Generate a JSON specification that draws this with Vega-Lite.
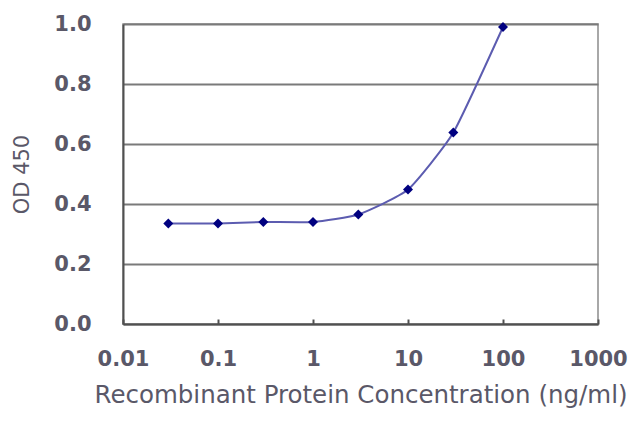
{
  "$schema": "https://vega.github.io/schema/vega-lite/v6.json",
  "autosize": {"type": "none"},
  "padding": {"left": 123, "top": 24, "right": 42, "bottom": 103},
  "width": 475,
  "height": 300,
  "background": "white",
  "config": {
    "font": "DejaVu Sans",
    "view": {"stroke": "#8c8c8c", "strokeWidth": 1.5},
    "axis": {
      "labelFont": "DejaVu Sans",
      "titleFont": "DejaVu Sans",
      "labelColor": "#5a5868",
      "titleColor": "#5a5868",
      "labelFontWeight": "bold",
      "titleFontWeight": "normal",
      "domainColor": "#505050",
      "domainWidth": 2
    }
  },
  "data": {
    "values": [
      {"conc": 0.03, "od": 0.335},
      {"conc": 0.1, "od": 0.335},
      {"conc": 0.3, "od": 0.34},
      {"conc": 1, "od": 0.34},
      {"conc": 3, "od": 0.365},
      {"conc": 10, "od": 0.448},
      {"conc": 30, "od": 0.638},
      {"conc": 100, "od": 0.99}
    ]
  },
  "encoding": {
    "x": {
      "field": "conc",
      "type": "quantitative",
      "scale": {"type": "log", "domain": [0.01, 1000], "nice": false},
      "axis": {
        "title": "Recombinant Protein Concentration (ng/ml)",
        "values": [0.01, 0.1, 1, 10, 100, 1000],
        "labelExpr": "format(datum.value, '~g')",
        "labelFlush": false,
        "labelOverlap": false,
        "grid": false,
        "tickSize": -5,
        "tickColor": "#505050",
        "tickWidth": 2,
        "labelPadding": 29,
        "labelFontSize": 21,
        "titleFontSize": 24.5,
        "titleY": 71,
        "titleBaseline": "middle"
      }
    },
    "y": {
      "field": "od",
      "type": "quantitative",
      "scale": {"domain": [0, 1], "nice": false},
      "axis": {
        "title": "OD 450",
        "values": [0, 0.2, 0.4, 0.6, 0.8, 1.0],
        "format": ".1f",
        "grid": true,
        "gridColor": "#7a7a7a",
        "gridWidth": 1.8,
        "ticks": false,
        "labelPadding": 32,
        "labelFontSize": 21,
        "titleFontSize": 21,
        "titleX": -101,
        "titleY": 150,
        "titleAlign": "center",
        "titleBaseline": "middle"
      }
    }
  },
  "layer": [
    {
      "mark": {"type": "line", "interpolate": "cardinal", "tension": 0.5, "color": "#5c5cb0", "strokeWidth": 2}
    },
    {
      "mark": {"type": "point", "shape": "diamond", "filled": true, "color": "#000080", "size": 100, "opacity": 1}
    }
  ]
}
